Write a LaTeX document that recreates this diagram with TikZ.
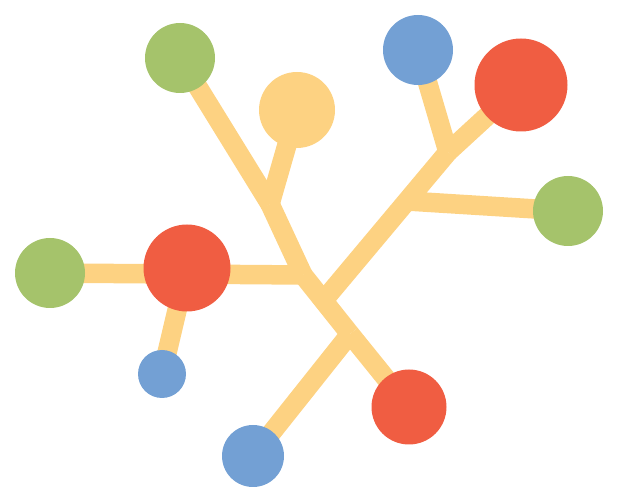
\documentclass[tikz,border=0pt]{standalone}
\usetikzlibrary{backgrounds}
\definecolor{cyel}{HTML}{FDD282}
\definecolor{cred}{HTML}{F05D42}
\definecolor{cgreen}{HTML}{A5C36B}
\definecolor{cblue}{HTML}{73A0D4}
\begin{document}
\begin{tikzpicture}[x=1pt,y=-1pt,
  conn/.style={draw=cyel,line width=19.5pt,line cap=butt},
  ball/.style={circle,inner sep=0pt,outer sep=0pt,minimum size=#1},
  ballR/.style={ball=#1,fill=cred},
  ballG/.style={ball=#1,fill=cgreen},
  ballB/.style={ball=#1,fill=cblue},
  ballY/.style={ball=#1,fill=cyel}]
\path[use as bounding box] (0,0) rectangle (619,502);
% junction points
\coordinate (A) at (270,204);
\coordinate (B) at (303,275);
\coordinate (C) at (350,334);
\coordinate (D) at (324,300);
\coordinate (E) at (448,152);
\coordinate (F) at (407,201);
% circles
\node[ballG=70pt] (gTL) at (180,58) {};
\node[ballY=76pt] (yC) at (297,110) {};
\node[ballB=70pt] (bT) at (418,50) {};
\node[ballR=93pt] (rTR) at (521,85) {};
\node[ballG=70pt] (gR) at (568,211) {};
\node[ballG=70pt] (gL) at (50,273) {};
\node[ballR=87pt] (rM) at (187,268) {};
\node[ballB=48pt] (bS) at (162,374) {};
\node[ballR=75pt] (rB) at (409,407) {};
\node[ballB=62pt] (bB) at (253,456) {};
% connectors behind circles
\begin{scope}[on background layer]
\draw[conn] (gTL.center) -- (A);
\draw[conn] (yC.center) -- (A);
\draw[conn] (A) -- (B);
\draw[conn] (gL.center) -- (B);
\draw[conn] (bS.center) -- (rM.center);
\draw[conn] (B) -- (C);
\draw[conn] (C) -- (rB.center);
\draw[conn] (bB.center) -- (C);
\draw[conn] (D) -- (E);
\draw[conn] (E) -- (rTR.center);
\draw[conn] (bT.center) -- (E);
\draw[conn] (F) -- (gR.center);
\end{scope}
\end{tikzpicture}
\end{document}
